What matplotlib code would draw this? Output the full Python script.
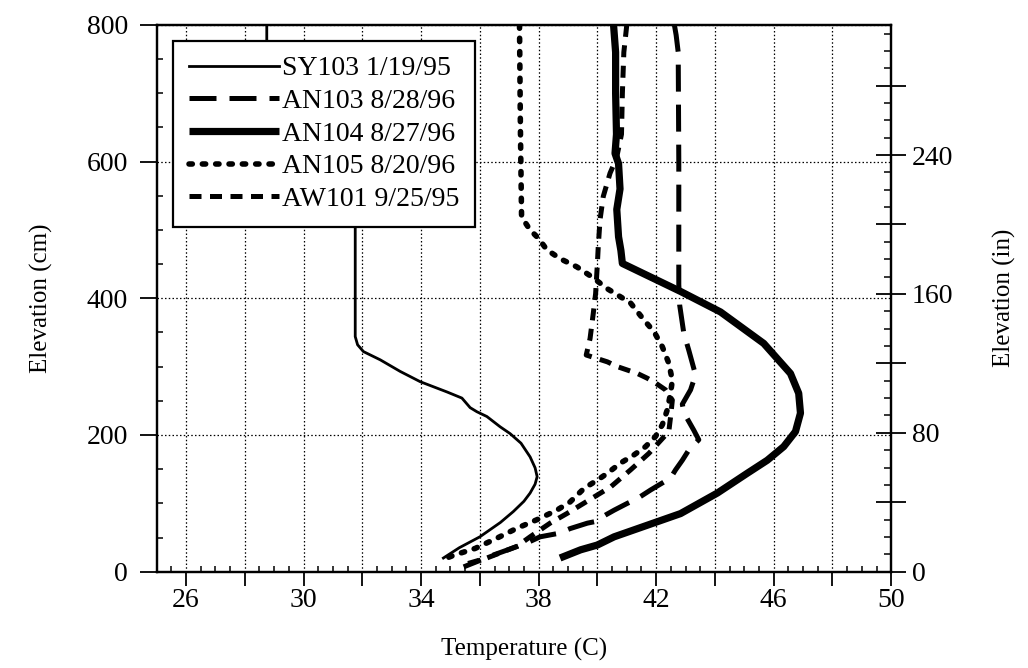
import matplotlib
matplotlib.use("Agg")
import matplotlib.pyplot as plt
from matplotlib.ticker import MultipleLocator, FuncFormatter

plt.rcParams['font.family'] = ['Liberation Serif', 'DejaVu Serif']
plt.rcParams['font.size'] = 18

# temperature profiles: (temperature C, elevation cm)
sy103_t = [34.76, 35.3, 36.0, 36.7, 37.14, 37.5, 37.71, 37.88, 37.95, 37.88, 37.71, 37.4,
           37.03, 36.69, 36.24, 35.9, 35.67, 35.39, 34.88, 33.97, 33.29, 32.61, 32.04, 31.84,
           31.76, 31.76, 28.75, 28.75]
sy103_e = [20, 35, 51, 72, 88, 103, 115, 128, 139, 152, 168, 188,
           202, 212, 227, 234, 240, 254, 263, 278, 293, 310, 322, 332,
           344, 620, 700, 800]

an103_t = [42.62, 42.68, 42.75, 42.77, 42.77, 42.8, 42.94, 43.11, 43.34, 43.17, 42.89, 42.95,
           43.28, 43.45, 43.11, 42.89, 42.66, 42.49, 42.1, 41.81, 41.36, 41.02, 40.57, 40.28,
           39.89, 39.66, 39.07, 38.67, 38.05, 37.6, 36.5, 35.45]
an103_e = [800, 785, 760, 600, 420, 390, 349, 324, 288, 266, 245, 232,
           207, 193, 178, 163, 149, 137, 127, 119.5, 107, 100, 90, 83,
           73, 71, 63, 56, 51, 42, 25, 7]

an104_t = [40.55, 40.62, 40.62, 40.65, 40.6, 40.72, 40.77, 40.66, 40.72, 40.8, 40.85, 42.83,
           44.19, 45.66, 46.57, 46.85, 46.91, 46.74, 46.34, 45.78, 45.1, 44.08, 42.83, 41.7,
           40.57, 40.0, 39.43, 38.73]
an104_e = [800, 760, 700, 640, 612, 597, 560, 530, 490, 470, 451, 410,
           380, 334, 290, 261, 232, 205, 183, 163, 144, 115, 85, 68,
           51, 39, 32, 20]

an105_t = [37.35, 37.38, 37.42, 37.71, 37.99, 38.28, 38.73, 39.3, 39.86, 40.3, 40.68, 41.13,
           41.59, 41.93, 42.21, 42.43, 42.55, 42.49, 42.38, 42.21, 41.98, 41.64, 41.25, 40.79,
           40.34, 40.0, 39.55, 39.07, 38.62, 37.94, 37.26, 36.58, 35.84, 35.11, 34.88, 34.85]
an105_e = [800, 650, 519, 500, 488, 471, 458, 446, 430, 415, 405, 393,
           368, 351, 329, 305, 280, 261, 237, 215, 198, 183, 171, 159,
           144, 134, 122, 102, 90, 76, 63.5, 49, 34, 24, 20, 12]

aw101_t = [41.0, 40.9, 40.85, 40.82, 40.65, 40.43, 40.2, 40.09, 40.03, 40.0, 39.94, 39.86,
           39.75, 39.62, 40.34, 40.68, 41.02, 41.36, 41.7, 41.98, 42.32, 42.55, 42.5, 42.43,
           41.75, 41.13, 40.45, 39.8, 38.96, 38.39, 37.71, 37.26, 36.24, 35.6]
aw101_e = [800, 760, 700, 640, 605, 583, 549, 515, 476, 451, 407, 378,
           341, 317, 307, 300, 295, 290, 283, 276, 266, 251, 230, 205,
           173, 149, 124, 107, 85, 71, 51, 37, 20, 12]

labels = ["SY103 1/19/95", "AN103 8/28/96", "AN104 8/27/96", "AN105 8/20/96", "AW101 9/25/95"]

fig = plt.figure(figsize=(10.28, 6.68), dpi=100)
ax = fig.add_axes([0.1523, 0.1442, 0.7147, 0.8185])

ax.plot(sy103_t, sy103_e, color='black', lw=2.0, label=labels[0])
ax.plot(an103_t, an103_e, color='black', lw=3.6, linestyle=(0, (5.4, 2.6)),
        dash_capstyle='butt', label=labels[1])
ax.plot(an104_t, an104_e, color='black', lw=5.2, solid_capstyle='butt', label=labels[2])
ax.plot(an105_t, an105_e, color='black', lw=4.0, linestyle=(0, (0.6, 1.8)),
        dash_capstyle='round', label=labels[3])
ax.plot(aw101_t, aw101_e, color='black', lw=3.6, linestyle=(0, (2.4, 1.7)),
        dash_capstyle='butt', label=labels[4])

ax.set_xlim(25, 50)
ax.set_ylim(0, 800)

ax.xaxis.set_major_locator(MultipleLocator(2))
ax.xaxis.set_minor_locator(MultipleLocator(0.5))
ax.xaxis.set_major_formatter(FuncFormatter(
    lambda v, p: f"{v:.0f}" if abs((v - 26) % 4) < 1e-6 else ""))
ax.yaxis.set_major_locator(MultipleLocator(200))
ax.yaxis.set_minor_locator(MultipleLocator(50))

ax.tick_params(axis='x', which='major', direction='out', length=10, width=1.3, pad=2,
               labelsize=20)
ax.tick_params(axis='y', which='major', direction='out', length=12, width=1.3, pad=8.5,
               labelsize=20)
ax.tick_params(which='minor', direction='in', length=4, width=1.1)
ax.tick_params(top=False, right=False, which='both')

ax.grid(True, which='major', color='black', linestyle=(0, (1.2, 1.8)), linewidth=0.9)
for s in ax.spines.values():
    s.set_linewidth(1.6)

ax.set_xlabel("Temperature (C)", fontsize=18, labelpad=18)
ax.set_ylabel("Elevation (cm)", fontsize=18, labelpad=24)

# second scale in inches on the right
ax2 = ax.twinx()
ax2.set_ylim(0, 800 / 2.54)
ax2.yaxis.set_major_locator(MultipleLocator(40))
ax2.yaxis.set_minor_locator(MultipleLocator(10))
ax2.yaxis.set_major_formatter(FuncFormatter(
    lambda v, p: f"{v:.0f}" if abs(v % 80) < 1e-6 else ""))
ax2.tick_params(which='major', direction='inout', length=22, width=1.3, pad=4, labelsize=20)
ax2.tick_params(which='minor', direction='in', length=5, width=1.1)
ax2.set_ylabel("Elevation (in)", fontsize=18, labelpad=28)
for s in ax2.spines.values():
    s.set_linewidth(1.6)

leg = ax.legend(loc='upper left', bbox_to_anchor=(0.0227, 0.971), borderaxespad=0,
                frameon=True, fancybox=False, framealpha=1, edgecolor='black',
                fontsize=20, handlelength=3.25, handletextpad=0.12, labelspacing=0.26,
                borderpad=0.55)
leg.get_frame().set_linewidth(1.6)
leg.set_zorder(10)

fig.savefig("out.png", dpi=100, facecolor='white')
